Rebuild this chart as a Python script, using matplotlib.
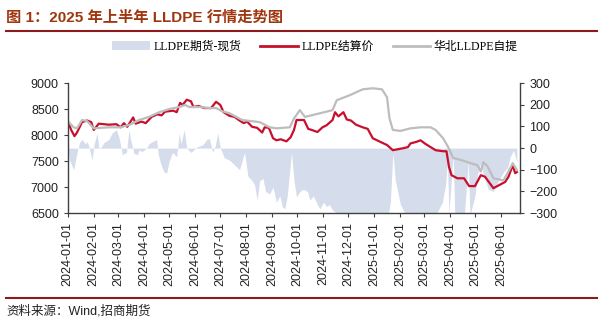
import pandas as pd
import matplotlib.pyplot as plt
import matplotlib.dates as mdates
from matplotlib.patches import Patch
from matplotlib.lines import Line2D

plt.rcParams['font.family'] = ['Liberation Sans', 'Noto Sans CJK SC']

# LLDPE 结算价 (futures settlement)
settle_dates = ['2024-01-02', '2024-01-05', '2024-01-09', '2024-01-12', '2024-01-18', '2024-01-24',
                '2024-01-29', '2024-02-01', '2024-02-07', '2024-02-19', '2024-02-28', '2024-03-04',
                '2024-03-08', '2024-03-12', '2024-03-19', '2024-03-22', '2024-03-29', '2024-04-03',
                '2024-04-10', '2024-04-17', '2024-04-22', '2024-04-26', '2024-05-06', '2024-05-10',
                '2024-05-14', '2024-05-17', '2024-05-22', '2024-05-27', '2024-05-30', '2024-06-05',
                '2024-06-12', '2024-06-20', '2024-06-26', '2024-07-01', '2024-07-05', '2024-07-12',
                '2024-07-18', '2024-07-24', '2024-07-29', '2024-08-02', '2024-08-08', '2024-08-14',
                '2024-08-20', '2024-08-23', '2024-08-28', '2024-09-02', '2024-09-06', '2024-09-11',
                '2024-09-18', '2024-09-23', '2024-09-27', '2024-09-30', '2024-10-09', '2024-10-14',
                '2024-10-18', '2024-10-25', '2024-10-31', '2024-11-05', '2024-11-12', '2024-11-15',
                '2024-11-19', '2024-11-25', '2024-11-29', '2024-12-04', '2024-12-10', '2024-12-18',
                '2024-12-24', '2024-12-30', '2025-01-08', '2025-01-16', '2025-01-23', '2025-02-05',
                '2025-02-10', '2025-02-13', '2025-02-20', '2025-02-25', '2025-03-03', '2025-03-09',
                '2025-03-15', '2025-03-24', '2025-03-28', '2025-03-31', '2025-04-03', '2025-04-10',
                '2025-04-18', '2025-04-24', '2025-05-01', '2025-05-08', '2025-05-13', '2025-05-23',
                '2025-05-30', '2025-06-06', '2025-06-10', '2025-06-15', '2025-06-18', '2025-06-20']
settle_vals = [8230, 8100, 7980, 8050, 8250, 8280,
               8250, 8100, 8220, 8200, 8210, 8150,
               8230, 8160, 8340, 8220, 8260, 8230,
               8350, 8400, 8380, 8450, 8470, 8440,
               8620, 8580, 8680, 8650, 8540, 8560,
               8520, 8520, 8640, 8580, 8440, 8370,
               8350, 8280, 8230, 8260, 8160, 8140,
               8050, 8150, 8140, 7940, 7900, 7920,
               7880, 7960, 8100, 8290, 8290, 8120,
               8100, 8060, 8150, 8190, 8290, 8440,
               8360, 8440, 8300, 8280, 8200, 8150,
               8120, 7940, 7870, 7810, 7710, 7750,
               7770, 7840, 7870, 7900, 7830, 7770,
               7710, 7690, 7690, 7390, 7230, 7170,
               7170, 7020, 7020, 7230, 7200, 6980,
               7040, 7100, 7200, 7420, 7270, 7290]

# 华北 LLDPE 自提 (spot)
spot_dates = ['2024-01-02', '2024-01-08', '2024-01-12', '2024-01-18', '2024-01-24', '2024-02-01',
              '2024-02-19', '2024-03-04', '2024-03-15', '2024-03-26', '2024-04-07', '2024-04-19',
              '2024-05-01', '2024-05-13', '2024-05-20', '2024-05-25', '2024-06-06', '2024-06-18',
              '2024-06-26', '2024-07-03', '2024-07-12', '2024-07-27', '2024-08-17', '2024-08-29',
              '2024-09-06', '2024-09-22', '2024-09-27', '2024-10-04', '2024-10-10', '2024-10-28',
              '2024-11-12', '2024-11-17', '2024-12-03', '2024-12-18', '2024-12-30', '2025-01-10',
              '2025-01-16', '2025-01-19', '2025-01-23', '2025-02-01', '2025-02-13', '2025-02-25',
              '2025-03-09', '2025-03-15', '2025-03-24', '2025-03-30', '2025-04-05', '2025-04-15',
              '2025-04-26', '2025-05-04', '2025-05-08', '2025-05-11', '2025-05-16', '2025-05-23',
              '2025-06-04', '2025-06-10', '2025-06-15', '2025-06-20']
spot_vals = [8250, 8150, 8130, 8290, 8270, 8130,
             8150, 8150, 8200, 8290, 8350, 8440,
             8500, 8540, 8580, 8540, 8540, 8520,
             8520, 8460, 8420, 8290, 8250, 8150,
             8130, 8150, 8320, 8480, 8350, 8420,
             8480, 8670, 8770, 8880, 8900, 8880,
             8730, 8320, 8100, 8080, 8130, 8150,
             8150, 8100, 7940, 7770, 7560, 7520,
             7460, 7420, 7300, 7480, 7400, 7170,
             7130, 7300, 7460, 7330]

# LLDPE 期货-现货 (basis, right axis)
basis_dates = ['2024-01-02', '2024-01-03', '2024-01-08', '2024-01-12', '2024-01-15', '2024-01-18',
               '2024-01-22', '2024-01-24', '2024-01-26', '2024-01-30', '2024-02-01', '2024-02-05',
               '2024-02-07', '2024-02-10', '2024-02-13', '2024-02-19', '2024-02-23', '2024-02-28',
               '2024-03-02', '2024-03-05', '2024-03-06', '2024-03-11', '2024-03-14', '2024-03-16',
               '2024-03-20', '2024-03-24', '2024-03-26', '2024-03-30', '2024-04-04', '2024-04-07',
               '2024-04-11', '2024-04-16', '2024-04-18', '2024-04-22', '2024-04-25', '2024-04-28',
               '2024-05-01', '2024-05-05', '2024-05-10', '2024-05-13', '2024-05-15', '2024-05-19',
               '2024-05-22', '2024-05-27', '2024-06-03', '2024-06-10', '2024-06-15', '2024-06-18',
               '2024-06-22', '2024-06-25', '2024-06-28', '2024-07-01', '2024-07-06', '2024-07-12',
               '2024-07-20', '2024-07-24', '2024-07-30', '2024-08-03', '2024-08-08', '2024-08-11',
               '2024-08-14', '2024-08-17', '2024-08-21', '2024-08-24', '2024-08-29', '2024-09-02',
               '2024-09-06', '2024-09-10', '2024-09-13', '2024-09-16', '2024-09-19', '2024-09-24',
               '2024-09-27', '2024-09-30', '2024-10-04', '2024-10-08', '2024-10-13', '2024-10-16',
               '2024-10-20', '2024-10-25', '2024-10-28', '2024-11-01', '2024-11-05', '2024-11-08',
               '2024-11-12', '2024-11-17', '2024-11-25', '2024-12-05', '2024-12-15', '2024-12-23',
               '2024-12-24', '2024-12-25', '2025-01-05', '2025-01-15', '2025-01-20', '2025-01-23',
               '2025-01-26', '2025-02-01', '2025-02-10', '2025-02-20', '2025-03-01', '2025-03-10',
               '2025-03-15', '2025-03-19', '2025-03-23', '2025-03-27', '2025-03-29', '2025-03-31',
               '2025-04-05', '2025-04-07', '2025-04-18', '2025-04-23', '2025-04-25', '2025-05-01',
               '2025-05-04', '2025-05-08', '2025-05-11', '2025-05-17', '2025-05-23', '2025-05-29',
               '2025-06-04', '2025-06-09', '2025-06-12', '2025-06-16', '2025-06-19', '2025-06-20']
basis_vals = [-20, -55, -100, -20, 25, 40,
              20, 30, 10, -55, 10, 70,
              0, 5, 25, 40, 70, 85,
              50, -5, -30, -20, 85, 40,
              -25, -30, -10, -15, 0, 20,
              30, 40, -30, -85, -110, -115,
              -60, -20, -40, 70, 20, 85,
              0, -20, 5, 15, 40, 45,
              -20, 10, 70, 0, -45, -55,
              -85, -100, -20, -130, -150, -170,
              -240, -150, -140, -200, -210, -180,
              -250, -220, -270, -280, -220, -20,
              -150, -225, -200, -190, -200, -240,
              -220, -260, -280, -250, -270, -260,
              -285, -300, -340, -360, -330, -350,
              -290, -340, -350, -360, -250, -20,
              -150, -260, -330, -320, -310, -330,
              -310, -280, -250, -170, -60, -300,
              -20, -320, -330, -60, -310, -220,
              -120, -70, -120, -190, -200, -150,
              -110, -90, -40, -10, -50, -60]

settle_dates = pd.to_datetime(settle_dates)
spot_dates = pd.to_datetime(spot_dates)
basis_dates = pd.to_datetime(basis_dates)

fig = plt.figure(figsize=(6.0, 3.22), dpi=100)
ax = fig.add_axes([0.113, 0.338, 0.754, 0.404])
ax2 = ax.twinx()

# basis area sits behind the price lines
ax2.fill_between(basis_dates, 0, basis_vals, color='#D5DCEB', linewidth=0)
ax.set_zorder(ax2.get_zorder() + 1)
ax.patch.set_visible(False)

ax.plot(settle_dates, settle_vals, color='#C8102E', linewidth=1.6)
ax.plot(spot_dates, spot_vals, color='#BDBDBD', linewidth=1.6)

ax.set_ylim(6500, 9000)
ax.set_yticks(range(6500, 9001, 500))
ax2.set_ylim(-300, 300)
ax2.set_yticks(range(-300, 301, 100))
ax.set_xlim(pd.Timestamp('2024-01-01'), pd.Timestamp('2025-06-24'))

ax.xaxis.set_major_locator(mdates.MonthLocator())
ax.xaxis.set_major_formatter(mdates.DateFormatter('%Y-%m-%d'))
for lbl in ax.get_xticklabels():
    lbl.set_rotation(90)

for a in (ax, ax2):
    a.spines['top'].set_visible(False)
    for s in ('left', 'right', 'bottom'):
        a.spines[s].set_color('#404040')
        a.spines[s].set_linewidth(1.0)
    a.tick_params(axis='both', labelsize=9, length=3, width=0.8, color='#404040', labelcolor='#222222')
ax.spines['right'].set_visible(False)
ax2.spines['left'].set_visible(False)
ax2.spines['bottom'].set_visible(False)

handles = [Patch(facecolor='#D5DCEB', edgecolor='none'),
           Line2D([], [], color='#C8102E', linewidth=2),
           Line2D([], [], color='#BDBDBD', linewidth=2)]
labels = ['LLDPE期货-现货', 'LLDPE结算价', '华北LLDPE自提']
fig.legend(handles, labels, loc='center', bbox_to_anchor=(0.525, 0.855), ncol=3, frameon=False,
           prop={'family': ['Liberation Serif', 'Noto Sans CJK SC'], 'size': 8.5},
           handlelength=3.2, columnspacing=1.6, handletextpad=0.3)

fig.text(0.01, 0.945, '图 1：2025 年上半年 LLDPE 行情走势图', fontsize=11, fontweight='bold',
         color='#A0360F', va='center', ha='left')
fig.add_artist(Line2D([0.01, 0.995], [0.905, 0.905], color='#8E1B1B', linewidth=1.5))
fig.add_artist(Line2D([0.01, 0.995], [0.075, 0.075], color='#8E1B1B', linewidth=1.5))
fig.text(0.01, 0.035, '资料来源：Wind,招商期货', fontsize=9, color='#222222', va='center', ha='left')

fig.savefig('out.png', dpi=100)
